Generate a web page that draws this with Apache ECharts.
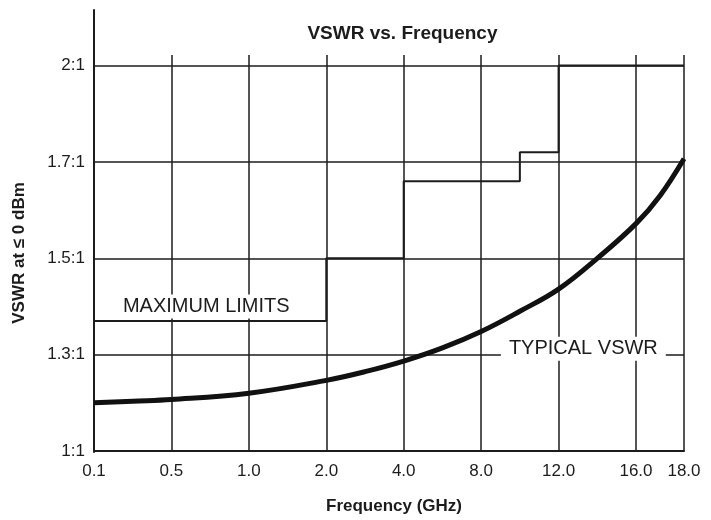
<!DOCTYPE html>
<html>
<head>
<meta charset="utf-8">
<script src="https://cdn.jsdelivr.net/npm/echarts@6/dist/echarts.min.js"></script>
<style>html,body{margin:0;padding:0;background:#fff}#c{width:711px;height:520px}</style>
</head>
<body>
<div id="c"></div>
<script>
// Axis tick definitions (frequency axis is a non-uniform, stretched scale)
const tickFreqs = [0.1, 0.5, 1.0, 2.0, 4.0, 8.0, 12.0, 16.0, 18.0];
const tickLabelsX = ['0.1', '0.5', '1.0', '2.0', '4.0', '8.0', '12.0', '16.0', '18.0'];
const vswrTicks = [1.0, 1.3, 1.5, 1.7, 2.0];
const vswrLabels = ['1:1', '1.3:1', '1.5:1', '1.7:1', '2:1'];

// Maximum limits (step line), value holds until next frequency
const maxLimitFreq = [0.1, 2.0, 4.0, 10.0, 12.0, 18.0];
const maxLimitVswr = [1.37, 1.5, 1.66, 1.73, 2.0, 2.0];

// Typical VSWR curve
const typicalFreq = [0.1, 0.3, 0.5, 1.0, 2.0, 3.0, 4.0, 6.0, 8.0, 10.0, 12.0, 14.0, 16.0, 17.0, 18.0];
const typicalVswr = [1.15, 1.155, 1.16, 1.18, 1.22, 1.247, 1.28, 1.314, 1.348, 1.39, 1.436, 1.5, 1.572, 1.63, 1.71];

// scale breakpoints of the chart's printed axes
const tickPosX = [0, 1, 2, 3, 4, 5, 6, 7, 7.62];
const tickPosY = [0, 1, 2, 3, 4];

function piece(v, src, dst) {
  for (let i = 0; i < src.length - 1; i++) {
    if (v <= src[i + 1] || i === src.length - 2) {
      const t = (v - src[i]) / (src[i + 1] - src[i]);
      return dst[i] + t * (dst[i + 1] - dst[i]);
    }
  }
}
const fx = f => piece(f, tickFreqs, tickPosX);
const fy = v => piece(v, vswrTicks, tickPosY);

const maxData = maxLimitFreq.map((f, i) => [fx(f), fy(maxLimitVswr[i])]);
const typData = typicalFreq.map((f, i) => [fx(f), fy(typicalVswr[i])]);

const FONT = 'Liberation Sans';
const INK = '#1c1c1c';
const X_MAX = tickPosX[tickPosX.length - 1];
const Y_MAX = 4.11;

const chart = echarts.init(document.getElementById('c'));
chart.setOption({
  animation: false,
  backgroundColor: '#fff',
  title: {
    text: 'VSWR vs. Frequency',
    left: '55.9%',
    textAlign: 'center',
    top: 19,
    textStyle: { fontFamily: FONT, fontSize: 19, fontWeight: 'bold', color: INK }
  },
  grid: [
    { left: 94, right: 27, top: 55, bottom: 68 },
    { left: 94, width: 1, top: 10, bottom: 68 }
  ],
  xAxis: [
    {
      type: 'value', gridIndex: 0, min: 0, max: X_MAX, interval: 1,
      name: 'Frequency (GHz)', nameLocation: 'middle', nameGap: 47,
      nameTextStyle: { fontFamily: FONT, fontSize: 17, fontWeight: 'bold', color: INK, padding: [0, 0, 0, 10] },
      axisLine: { show: true, lineStyle: { color: INK, width: 2 } },
      axisTick: { show: false },
      splitLine: { show: true, lineStyle: { color: INK, width: 1.5 } },
      axisLabel: {
        fontFamily: FONT, fontSize: 17, color: INK, margin: 12,
        formatter: v => {
          const i = tickPosX.findIndex(p => Math.abs(p - v) < 1e-6);
          return i >= 0 ? tickLabelsX[i] : '';
        }
      }
    },
    { type: 'value', gridIndex: 1, show: false, min: 0, max: 1 }
  ],
  yAxis: [
    {
      type: 'value', gridIndex: 0, min: 0, max: Y_MAX, interval: 1,
      name: 'VSWR at \u2264 0 dBm', nameLocation: 'middle', nameGap: 66, nameRotate: 90,
      nameTextStyle: { fontFamily: FONT, fontSize: 17, fontWeight: 'bold', color: INK, padding: [0, 0, 0, 0] },
      axisLine: { show: false },
      axisTick: { show: false },
      splitLine: { show: true, lineStyle: { color: [INK, INK, INK, INK, INK, 'rgba(0,0,0,0)'], width: 1.5 } },
      axisLabel: {
        fontFamily: FONT, fontSize: 17, color: INK, margin: 9,
        formatter: v => {
          const i = tickPosY.findIndex(p => Math.abs(p - v) < 1e-6);
          return i >= 0 ? vswrLabels[i] : '';
        }
      }
    },
    {
      type: 'value', gridIndex: 1, min: 0, max: 1,
      axisLine: { show: true, lineStyle: { color: INK, width: 2 } },
      axisTick: { show: false }, axisLabel: { show: false }, splitLine: { show: false }
    }
  ],
  series: [
    {
      name: 'Maximum limits', type: 'line', step: 'end',
      xAxisIndex: 0, yAxisIndex: 0,
      data: maxData, symbol: 'none',
      lineStyle: { color: INK, width: 2 }
    },
    {
      name: 'Typical VSWR', type: 'line', smooth: 0.4,
      xAxisIndex: 0, yAxisIndex: 0,
      data: typData, symbol: 'none',
      lineStyle: { color: '#111', width: 5 },
      markPoint: {
        symbol: 'rect', symbolSize: 1,
        itemStyle: { color: 'rgba(0,0,0,0)' },
        label: {
          show: true, position: 'inside',
          fontFamily: FONT, fontSize: 20, color: INK,
          backgroundColor: '#fff', padding: [2, 8],
          formatter: p => p.name
        },
        data: [
          { name: 'MAXIMUM LIMITS', coord: [1.45, 1.5] },
          { name: 'TYPICAL VSWR', coord: [6.32, 1.06] }
        ]
      }
    }
  ]
});
</script>
</body>
</html>
